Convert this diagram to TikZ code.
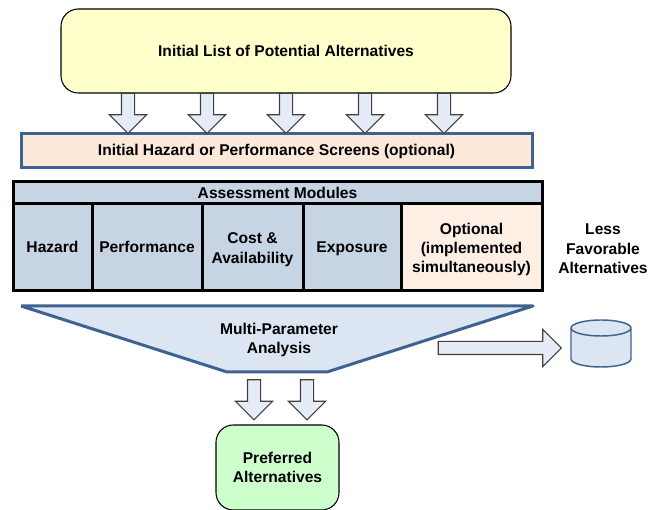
\documentclass[tikz,border=0pt]{standalone}
\usepackage{fontspec}
\setmainfont{Liberation Sans}
\usetikzlibrary{shapes.arrows}

\definecolor{listyellow}{HTML}{FFFFCC}
\definecolor{screenblue}{HTML}{3F6391}
\definecolor{screenfill}{HTML}{FDE9D9}
\definecolor{modulefill}{HTML}{C6D4E4}
\definecolor{optionfill}{HTML}{FDEFE4}
\definecolor{funnelfill}{HTML}{DCE6F2}
\definecolor{arrowfill}{HTML}{E6ECF7}
\definecolor{arrowline}{HTML}{404040}
\definecolor{preferfill}{HTML}{CCFFCC}

\tikzset{
  label/.style={font=\fontsize{11.7}{14.6}\selectfont\bfseries, align=center, text=black},
  module/.style={label, draw=black, line width=2.25pt, fill=modulefill, inner sep=0pt, minimum height=65.25pt},
  onerow/.style={text height=9pt, text depth=1.5pt},
  blockarrow/.style={single arrow, draw=arrowline, fill=arrowfill, line width=0.8pt, inner sep=4.5pt,
    minimum width=27pt, single arrow head extend=9pt, single arrow tip angle=90},
  downarrow/.style={blockarrow, shape border rotate=270, minimum height=30pt}
}

\begin{document}
\begin{tikzpicture}[x=0.75pt, y=0.75pt]

\useasboundingbox (0,0) rectangle (650,510);

\coordinate (A) at (21,204);
\coordinate (B) at (533,204);
\coordinate (C) at (327,138);
\coordinate (D) at (227,138);

\begin{scope}
\clip (0,0) rectangle (650,510);
\node [label, draw=black, line width=0.8pt, fill=preferfill, rounded corners=13pt,
  minimum width=92.25pt, minimum height=63.75pt] (preferred) at (277.5,42.5) {Preferred\\Alternatives};
\end{scope}

\node [label, draw=black, line width=0.8pt, fill=listyellow, rounded corners=13pt,
  minimum width=337.5pt, minimum height=63pt] (list) at (286,459) {Initial List of Potential Alternatives};

\node [label, onerow, draw=screenblue, line width=2.25pt, fill=screenfill,
  minimum width=383.25pt, minimum height=25.5pt] (screens) at (276.5,359) {Initial Hazard or Performance Screens (optional)};

\node [label, draw=black, line width=2.25pt, fill=modulefill, inner sep=0pt,
  minimum width=396.75pt, minimum height=16.5pt] (modules) at (277.5,317) {Assessment Modules};

\node [module, onerow, minimum width=59.25pt] (hazard) at (52.5,262.5) {Hazard};
\node [module, onerow, minimum width=82.5pt] (performance) at (147,262.5) {Performance};
\node [module, minimum width=75.75pt] (cost) at (252.5,262.5) {};
\node [module, onerow, minimum width=73.5pt] (exposure) at (352,262.5) {Exposure};
\node [module, fill=optionfill, minimum width=105.75pt] (optional) at (471.5,262.5) {};

\node [label] (costlabel) at (252.5,260.5) {Cost \&\\Availability};
\node [label] (optionallabel) at (471.5,260.5) {Optional\\(implemented\\simultaneously)};

\node [label] (less) at (603,261) {Less\\Favorable\\Alternatives};

\draw [draw=screenblue, line width=2.25pt, line join=round, fill=funnelfill]
(A)
--(B)
--(C)
--(D)
--(A);

\node [label] (analysis) at (279,170) {Multi-Parameter\\Analysis};

\node [downarrow] (arrow1) at (128,400) {};
\node [downarrow] (arrow2) at (207,400) {};
\node [downarrow] (arrow3) at (286,400) {};
\node [downarrow] (arrow4) at (365,400) {};
\node [downarrow] (arrow5) at (444,400) {};

\node [downarrow] (arrow6) at (254,113.5) {};
\node [downarrow] (arrow7) at (307,113.5) {};

\node [blockarrow, minimum height=92.25pt] (arrow8) at (496.5,162) {};

\coordinate (E) at (571,182);
\coordinate (F) at (571,151);
\coordinate (G) at (631,151);
\coordinate (H) at (631,182);

\draw [draw=screenblue, line width=1.1pt, fill=funnelfill]
(E)
--(F)
arc (180:360:30 and 8)
--(H)
arc (0:180:30 and 8)
arc (180:360:30 and 8);

\end{tikzpicture}
\end{document}
